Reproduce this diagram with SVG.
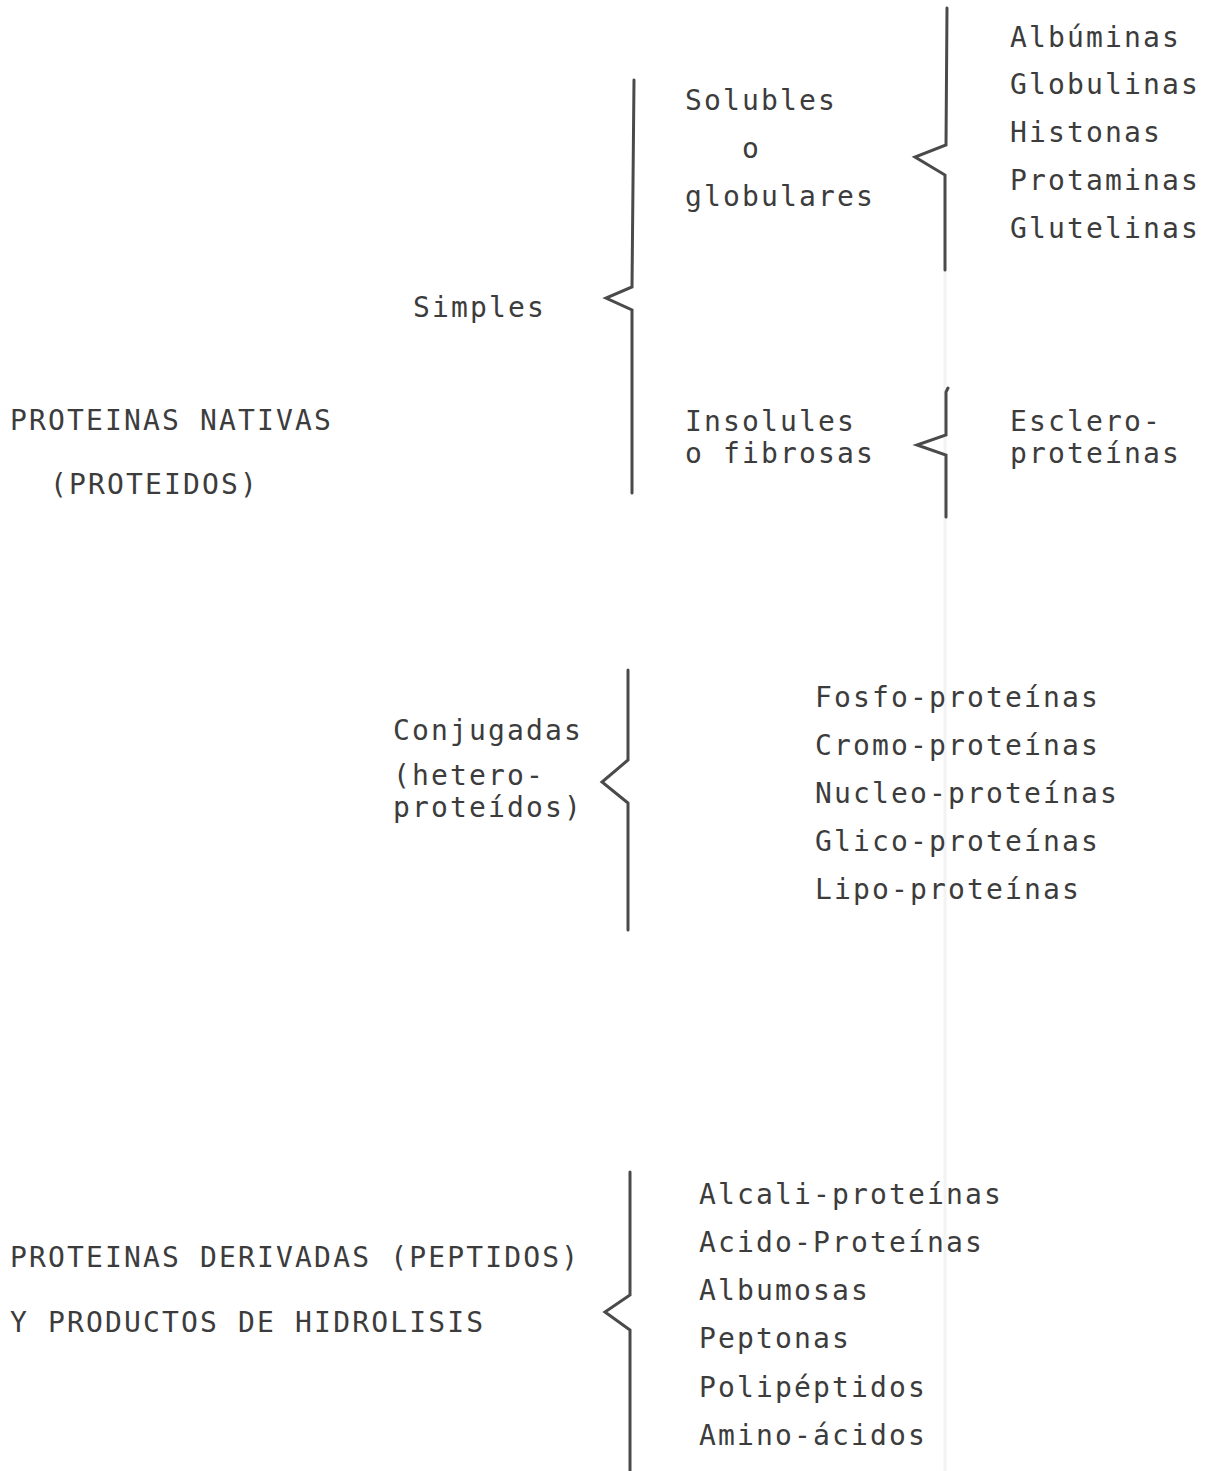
<svg xmlns="http://www.w3.org/2000/svg" width="1211" height="1471" viewBox="0 0 1211 1471">
<style>
text{font-family:"DejaVu Sans Mono","Liberation Mono",monospace;font-size:28px;letter-spacing:2.15px;fill:#3c3c3c}
.br{fill:none;stroke:#4a4a4a;stroke-width:3;stroke-linejoin:miter;stroke-linecap:round}
</style>
<rect width="1211" height="1471" fill="#ffffff"/>
<line x1="945" y1="270" x2="945" y2="1471" stroke="#f3f3f3" stroke-width="3"/>
<g id="root-nativas"><text x="10" y="430">PROTEINAS NATIVAS</text><text x="50" y="494">(PROTEIDOS)</text></g>
<g id="simples"><text x="413" y="317">Simples</text></g>
<g id="solubles"><text x="685" y="110">Solubles</text><text x="742" y="158">o</text><text x="685" y="206">globulares</text></g>
<g id="insolubles"><text x="685" y="431">Insolules</text><text x="685" y="463">o fibrosas</text></g>
<g id="globulares-list"><text x="1010" y="47">Albúminas</text><text x="1010" y="94">Globulinas</text><text x="1010" y="142">Histonas</text><text x="1010" y="190">Protaminas</text><text x="1010" y="238">Glutelinas</text></g>
<g id="escleroproteinas"><text x="1010" y="431">Esclero-</text><text x="1010" y="463">proteínas</text></g>
<g id="conjugadas"><text x="393" y="740">Conjugadas</text><text x="393" y="785">(hetero-</text><text x="393" y="817">proteídos)</text></g>
<g id="conjugadas-list"><text x="815" y="707">Fosfo-proteínas</text><text x="815" y="755">Cromo-proteínas</text><text x="815" y="803">Nucleo-proteínas</text><text x="815" y="851">Glico-proteínas</text><text x="815" y="899">Lipo-proteínas</text></g>
<g id="root-derivadas"><text x="10" y="1267">PROTEINAS DERIVADAS (PEPTIDOS)</text><text x="10" y="1332">Y PRODUCTOS DE HIDROLISIS</text></g>
<g id="derivadas-list"><text x="699" y="1204">Alcali-proteínas</text><text x="699" y="1252">Acido-Proteínas</text><text x="699" y="1300">Albumosas</text><text x="699" y="1348">Peptonas</text><text x="699" y="1397">Polipéptidos</text><text x="699" y="1445">Amino-ácidos</text></g>
<g id="connectors">
<path class="br" d="M634,80 L632,287 L606,298 L632,310 L632,493"/>
<path class="br" d="M947,8 L946,145 L915,157 L945,175 L945,270"/>
<path class="br" d="M948,388 L946,392 L946,435 L917,445 L946,455 L946,517"/>
<path class="br" d="M628,670 L628,760 L602,782 L628,803 L628,930"/>
<path class="br" d="M630,1172 L630,1295 L605,1312 L630,1330 L630,1471"/>
</g>
</svg>
